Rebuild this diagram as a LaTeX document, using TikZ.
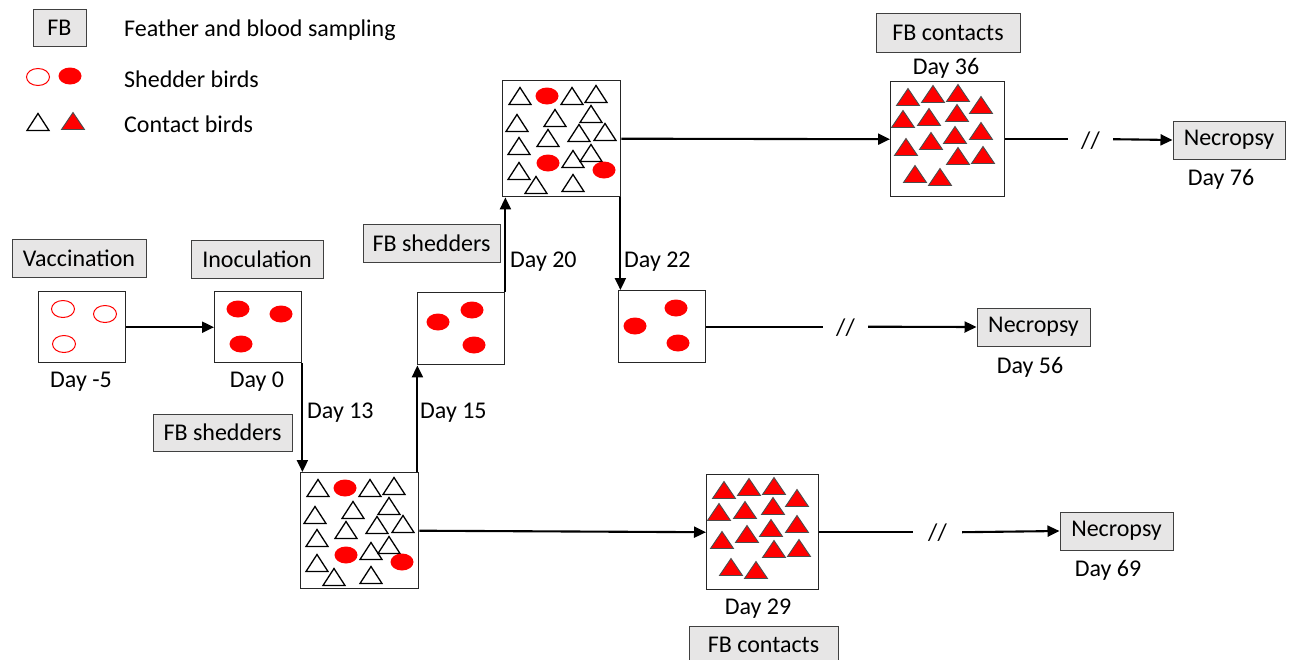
\documentclass[tikz,border=0pt]{standalone}
\usepackage{fontspec}
\setmainfont{Carlito}
\usetikzlibrary{arrows.meta,calc}
\definecolor{lblgray}{RGB}{231,230,230}
\begin{document}
\begin{tikzpicture}[x=1pt,y=-1pt,
  every node/.style={font=\fontsize{24}{28}\selectfont, inner sep=0pt},
  lbl/.style={draw=black!75, fill=lblgray, line width=1pt, minimum height=38pt},
  cage/.style={draw=black!85, line width=1.4pt, anchor=north west},
  arr/.style={line width=2.1pt, -{Triangle[length=12pt,width=11pt]}},
  ln/.style={line width=2.1pt},
  ctri/.pic={\draw[line width=1.3pt, line join=miter] (0,-8.5) -- (11,8.5) -- (-11,8.5) -- cycle;},
  rtri/.pic={\filldraw[fill=red, draw=black!70, line width=0.9pt] (0,-8.5) -- (11.5,8.5) -- (-11.5,8.5) -- cycle;},
  sell/.pic={\fill[red] (0,0) ellipse [x radius=11.5pt, y radius=8.5pt];},
  oell/.pic={\draw[red, line width=1pt] (0,0) ellipse [x radius=11.5pt, y radius=8.5pt];}
]
\useasboundingbox (0,0) rectangle (1290,659);

% ---------- legend ----------
\node[lbl, minimum width=53pt, minimum height=37pt] (lgFB) at (59.5,28) {FB};
\node[anchor=west] (lgT1) at (124,30) {Feather and blood sampling};
\pic at (38,77) {oell};
\pic at (70,76) {sell};
\node[anchor=west] (lgT2) at (124,79) {Shedder birds};
\pic at (38,122) {ctri};
\pic at (73,121) {rtri};
\node[anchor=west] (lgT3) at (124,124) {Contact birds};

% ---------- cages ----------
\node[cage, minimum width=87pt, minimum height=71pt] (A) at (38,291) {};
\node[cage, minimum width=87pt, minimum height=71pt] (B) at (214,291) {};
\node[cage, minimum width=118pt, minimum height=116pt] (C) at (300,472) {};
\node[cage, minimum width=87pt, minimum height=72pt] (D) at (417,292) {};
\node[cage, minimum width=118pt, minimum height=116pt] (E) at (502,80) {};
\node[cage, minimum width=87pt, minimum height=72pt] (F) at (618,290) {};
\node[cage, minimum width=114pt, minimum height=115pt] (G) at (890,81) {};
\node[cage, minimum width=112pt, minimum height=115pt] (H) at (706,474) {};

% cage contents
\foreach \dx/\dy in {25/18,67/23,26/53} {\pic at ($(A.north west)+(\dx,\dy)$) {oell};}
\foreach \dx/\dy in {24/18,67/23,27/53} {\pic at ($(B.north west)+(\dx,\dy)$) {sell};}
\foreach \dx/\dy in {21/30,55/18,57/53} {\pic at ($(D.north west)+(\dx,\dy)$) {sell};}
\foreach \dx/\dy in {17/36,58/18,60/53} {\pic at ($(F.north west)+(\dx,\dy)$) {sell};}
\foreach \bx in {C,E} {
  \foreach \dx/\dy in {18/16,70/16,94/14,15/43,53/38,89/34,77/53,103/52,17/66,46/58,89/73,71/79,17/91,34/105,71/103}
    {\pic at ($(\bx.north west)+(\dx,\dy)$) {ctri};}
  \foreach \dx/\dy in {45/16,46/83,102/90}
    {\pic at ($(\bx.north west)+(\dx,\dy)$) {sell};}
}
\foreach \bx in {G,H} {
  \foreach \dx/\dy in {18/16,43/13,68/12,91/24,13/38,39/36,67/32,91/50,16/66,41/60,65/54,68/75,93/74,25/93,50/96}
    {\pic at ($(\bx.north west)+(\dx,\dy)$) {rtri};}
}

% ---------- labels ----------
\node[lbl, minimum width=134pt] (vac) at (79,258) {Vaccination};
\node[lbl, minimum width=132pt] (ino) at (257,259) {Inoculation};
\node[lbl, minimum width=139pt, minimum height=37pt] (fbs1) at (222.5,432.5) {FB shedders};
\node[lbl, minimum width=137pt] (fbs2) at (431.5,243) {FB shedders};
\node[lbl, minimum width=144pt, minimum height=39pt] (fbc1) at (948,32.5) {FB contacts};
\node[lbl, minimum width=149pt] (fbc2) at (763.5,645) {FB contacts};
\node[lbl, minimum width=113pt] (N56) at (1033.5,327) {Necropsy};
\node[lbl, minimum width=112pt] (N76) at (1229,140) {Necropsy};
\node[lbl, minimum width=113pt] (N69) at (1116.5,531) {Necropsy};

\node (dm5) at (81,382) {Day -5};
\node (d0) at (257,382) {Day 0};
\node[anchor=west] (d13) at (307,413) {Day 13};
\node[anchor=west] (d15) at (420,413) {Day 15};
\node[anchor=west] (d20) at (510,262) {Day 20};
\node[anchor=west] (d22) at (624,262) {Day 22};
\node (d36) at (946,68) {Day 36};
\node (d76) at (1221,179) {Day 76};
\node (d56) at (1030,367) {Day 56};
\node (d29) at (758,609) {Day 29};
\node (d69) at (1108,570) {Day 69};

% break marks
\node[minimum width=45pt] (s56) at (845.5,328) {//};
\node[minimum width=45pt] (s76) at (1090.5,141) {//};
\node[minimum width=49pt] (s69) at (937.5,533) {//};

% ---------- connectors ----------
\draw[arr] (A.east) -- (B.west);
\draw[arr] (B.south east) -- (B.south east |- C.north);
\draw[arr] ([xshift=-2pt]C.north east) -- ([xshift=-2pt]C.north east |- D.south);
\draw[arr] (D.north east) -- (D.north east |- E.south);
\draw[arr] ([xshift=-1pt]E.south east) -- ([xshift=-1pt]E.south east |- F.north);
\draw[arr] (E.east) -- (G.west);
\draw[arr] (C.east) -- (H.west);
\draw[ln] (F.east) -- (F.east -| s56.west);
\draw[arr] (F.east -| s56.east) -- (N56.west);
\draw[ln] (G.east) -- (G.east -| s76.west);
\draw[arr] (G.east -| s76.east) -- (N76.west);
\draw[ln] (H.east) -- (H.east -| s69.west);
\draw[arr] (H.east -| s69.east) -- (N69.west);
\end{tikzpicture}
\end{document}
